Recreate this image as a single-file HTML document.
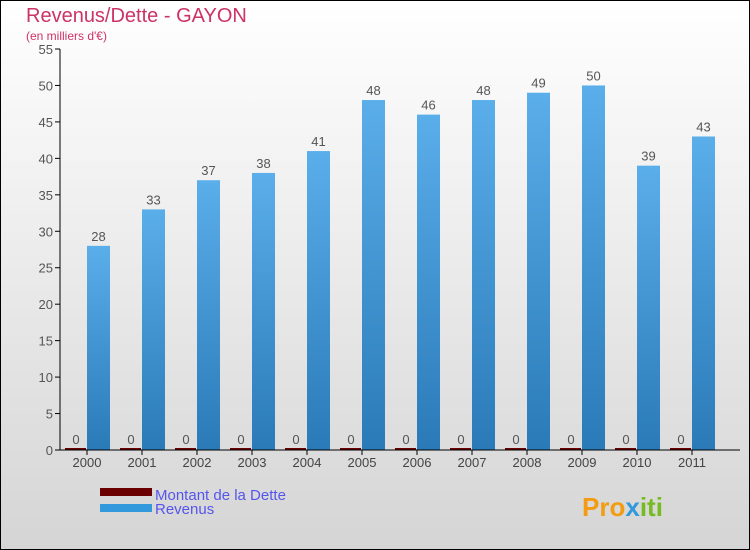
<!DOCTYPE html>
<html><head><meta charset="utf-8"><style>
body{margin:0}
#c{width:750px;height:550px;position:relative;box-sizing:border-box;border:1px solid #000;background:linear-gradient(#ffffff,#d5d5d5);font-family:"Liberation Sans",sans-serif;overflow:hidden}
</style></head><body>
<div id="c">
<svg id="s" width="750" height="550" style="position:absolute;left:-1px;top:-1px">
<defs><linearGradient id="g" x1="0" y1="0" x2="0" y2="1"><stop offset="0" stop-color="#5aaeea"/><stop offset="1" stop-color="#2a7ab8"/></linearGradient></defs>
<text x="26" y="22" font-size="20" fill="#cc3366">Revenus/Dette - GAYON</text>
<text x="26" y="40" font-size="12" fill="#cc3366">(en milliers d'€)</text>
<g id="plot"></g>
<rect x="100" y="488" width="52" height="8" fill="#6b0000"/>
<text x="155" y="500" font-size="15" fill="#5555ee">Montant de la Dette</text>
<rect x="100" y="504" width="52" height="8" fill="#3399dd"/>
<text x="155" y="514" font-size="15" fill="#5555ee">Revenus</text>
<text x="582" y="516" font-size="26" font-weight="bold" fill="#f39c12">Pro<tspan fill="#3399dd">x</tspan><tspan fill="#77bb22">iti</tspan></text>
</svg>
</div>
<script>
const categories=["2000","2001","2002","2003","2004","2005","2006","2007","2008","2009","2010","2011"];
const revenus=[28,33,37,38,41,48,46,48,49,50,39,43];
const dette=[0,0,0,0,0,0,0,0,0,0,0,0];
const yTicks=[0,5,10,15,20,25,30,35,40,45,50,55];
const NS="http://www.w3.org/2000/svg";
const g=document.getElementById('plot');
const y=v=>450-v*(401/55);
const x=i=>87+55*i;
function mk(t,a){const e=document.createElementNS(NS,t);for(const k in a)e.setAttribute(k,a[k]);g.appendChild(e);return e;}
yTicks.forEach(t=>{
 const l=mk('line',{x1:55,x2:60,y1:y(t),y2:y(t),stroke:'#000'});
 
 
 const tx=mk('text',{x:53,y:y(t)+5,'text-anchor':'end','font-size':13,fill:'#555'});tx.textContent=t;
 
 
});
categories.forEach((c,i)=>{
 const d=mk('rect',{x:x(i)-22,y:y(dette[i])-2,width:21,height:Math.max(2,450-y(dette[i])),fill:'#6b0000'});
 
 
 const dl=mk('text',{x:x(i)-11,y:y(dette[i])-6,'text-anchor':'middle','font-size':13,fill:'#555'});dl.textContent=dette[i];
 
 
 const r=mk('rect',{x:x(i),y:y(revenus[i]),width:23,height:450-y(revenus[i]),fill:'url(#g)'});
 
 
 const rl=mk('text',{x:x(i)+11.5,y:y(revenus[i])-5,'text-anchor':'middle','font-size':13,fill:'#555'});rl.textContent=revenus[i];
 
 
 const tk=mk('line',{x1:x(i),x2:x(i),y1:450,y2:455,stroke:'#000'});
 
 
 const xl=mk('text',{x:x(i),y:467,'text-anchor':'middle','font-size':13,fill:'#444'});xl.textContent=c;
 
 
});
const ya=mk('line',{x1:60,x2:60,y1:y(55),y2:450,stroke:'#000'});


const xa=mk('line',{x1:60,x2:740,y1:450,y2:450,stroke:'#000'});


</script>
</body></html>
